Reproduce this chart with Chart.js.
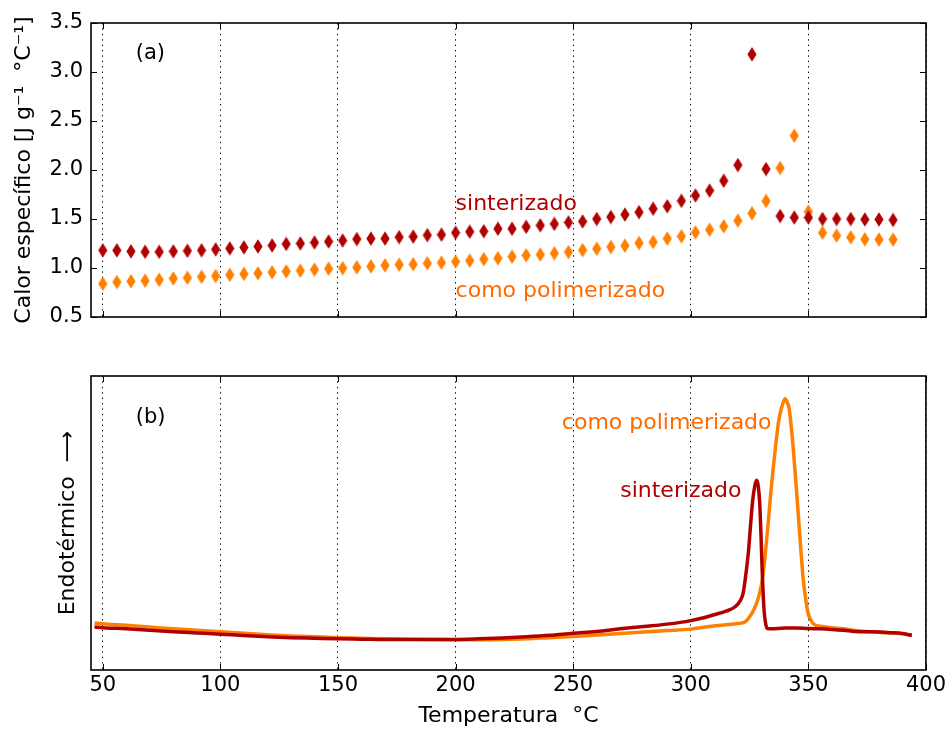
<!DOCTYPE html>
<html>
<head>
<meta charset="utf-8">
<script src="https://cdn.jsdelivr.net/npm/chart.js@4.4.1/dist/chart.umd.min.js"></script>
<style>
  html, body { margin: 0; padding: 0; background: #ffffff; }
  #wrap { position: relative; width: 949px; height: 729px; overflow: hidden; background: #fff; }
  #top { position: absolute; left: 0; top: 0; }
  #bot { position: absolute; left: 0; top: 345px; }
</style>
</head>
<body>
<div id="wrap">
  <canvas id="top" width="949" height="345"></canvas>
  <canvas id="bot" width="949" height="384"></canvas>
</div>
<script>
// ---------------- data ----------------
const xTicks = [50, 100, 150, 200, 250, 300, 350, 400];
const cpTicks = [0.5, 1.0, 1.5, 2.0, 2.5, 3.0, 3.5];

// (a) specific heat, temperature in °C
const cpTemps = [50, 56, 62, 68, 74, 80, 86, 92, 98, 104,
  110, 116, 122, 128, 134, 140, 146, 152, 158, 164,
  170, 176, 182, 188, 194, 200, 206, 212, 218, 224,
  230, 236, 242, 248, 254, 260, 266, 272, 278, 284,
  290, 296, 302, 308, 314, 320, 326, 332, 338, 344,
  350, 356, 362, 368, 374, 380, 386];
const cpSinterizado = [1.18, 1.18, 1.17, 1.165, 1.165, 1.17, 1.175, 1.18, 1.19, 1.20,
  1.21, 1.22, 1.23, 1.245, 1.25, 1.26, 1.27, 1.28, 1.295, 1.30,
  1.30, 1.315, 1.32, 1.335, 1.34, 1.36, 1.37, 1.375, 1.40, 1.40,
  1.42, 1.435, 1.45, 1.465, 1.475, 1.50, 1.52, 1.545, 1.57, 1.605,
  1.63, 1.685, 1.74, 1.79, 1.89, 2.05, 3.18, 2.01, 1.53, 1.515,
  1.515, 1.50, 1.50, 1.50, 1.495, 1.495, 1.49];
const cpPolimerizado = [0.84, 0.857, 0.864, 0.87, 0.88, 0.893, 0.90, 0.91, 0.918, 0.93,
  0.94, 0.946, 0.956, 0.966, 0.973, 0.983, 0.993, 0.998, 1.007, 1.017,
  1.027, 1.034, 1.038, 1.048, 1.054, 1.065, 1.075, 1.09, 1.10, 1.115,
  1.13, 1.137, 1.15, 1.163, 1.183, 1.197, 1.214, 1.228, 1.255, 1.265,
  1.30, 1.323, 1.363, 1.39, 1.425, 1.483, 1.558, 1.684, 2.02, 2.35,
  1.575, 1.36, 1.33, 1.313, 1.293, 1.29, 1.29];

// (b) DSC traces (arbitrary units, endothermic up)
const dscTempSint = [46.5, 50, 60, 70, 80, 90, 100, 110, 120, 130,
  140, 150, 160, 170, 180, 190, 200, 210, 220, 230,
  240, 250, 260, 270, 280, 290, 300, 305, 310, 315,
  319, 321, 322.3, 323.5, 324.5, 325.3, 326.3, 327.2, 328, 328.7,
  329.3, 329.9, 330.5, 331.2, 331.9, 332.6, 334, 340, 345, 350,
  355, 360, 365, 370, 375, 380, 385, 390, 394];
const dscSint = [0.146, 0.144, 0.140, 0.135, 0.130, 0.126, 0.122, 0.117, 0.113, 0.110,
  0.108, 0.106, 0.105, 0.104, 0.104, 0.104, 0.104, 0.106, 0.109, 0.113,
  0.118, 0.125, 0.131, 0.140, 0.148, 0.156, 0.168, 0.177, 0.188, 0.200,
  0.216, 0.235, 0.262, 0.330, 0.400, 0.480, 0.575, 0.625, 0.645, 0.625,
  0.570, 0.450, 0.310, 0.200, 0.155, 0.141, 0.140, 0.143, 0.143, 0.141,
  0.140, 0.138, 0.135, 0.131, 0.130, 0.129, 0.127, 0.124, 0.118];
const dscTempPoli = [46.5, 50, 60, 70, 80, 90, 100, 110, 120, 130,
  140, 150, 160, 170, 180, 190, 200, 210, 220, 230,
  240, 250, 260, 270, 280, 290, 300, 307, 314, 320,
  323, 325.4, 326.8, 328, 329.2, 330.5, 331.5, 332.9, 334, 335.1,
  336.2, 337.2, 338.2, 339.2, 340.2, 341, 341.8, 342.7, 343.5, 344.6,
  345.7, 346.8, 347.8, 348.9, 349.9, 351, 352.8, 356, 360, 365,
  370, 375, 380, 385, 390, 394];
const dscPoli = [0.160, 0.157, 0.152, 0.146, 0.140, 0.135, 0.130, 0.125, 0.120, 0.116,
  0.113, 0.110, 0.108, 0.106, 0.105, 0.104, 0.103, 0.103, 0.104, 0.106,
  0.110, 0.114, 0.119, 0.124, 0.129, 0.134, 0.139, 0.147, 0.153, 0.158,
  0.163, 0.185, 0.205, 0.227, 0.260, 0.310, 0.380, 0.498, 0.600, 0.690,
  0.770, 0.838, 0.880, 0.908, 0.923, 0.910, 0.890, 0.830, 0.760, 0.650,
  0.530, 0.410, 0.310, 0.240, 0.193, 0.170, 0.153, 0.148, 0.144, 0.140,
  0.134, 0.131, 0.128, 0.126, 0.123, 0.118];

// labels
const nameSint = 'sinterizado';
const namePoli = 'como polimerizado';
const xTitle = 'Temperatura  °C';
const yTitleTop = 'Calor específico [J g⁻¹  °C⁻¹]';
const yTitleBot = 'Endotérmico  ⟶';

// ---------------- styles ----------------
const RED = '#b00000';
const ORANGE = '#ff8000';
const ORANGE_TXT = '#ff6a00';
const FONT = "'DejaVu Sans', sans-serif";

function diamond(color) {
  const c = document.createElement('canvas');
  c.width = 10; c.height = 15;
  const g = c.getContext('2d');
  g.fillStyle = color;
  g.beginPath();
  g.moveTo(5, 0.3); g.lineTo(9.6, 7.5); g.lineTo(5, 14.7); g.lineTo(0.4, 7.5);
  g.closePath(); g.fill();
  return c;
}

const framePlugin = {
  id: 'frame',
  afterDatasetsDraw(chart, args, opts) {
    const ctx = chart.ctx, a = chart.chartArea;
    const xs = chart.scales.x, ys = chart.scales.y;
    ctx.save();
    // annotations
    (opts.texts || []).forEach(t => {
      ctx.font = t.font || ('22px ' + FONT);
      ctx.fillStyle = t.color;
      ctx.textAlign = 'left';
      ctx.textBaseline = 'alphabetic';
      ctx.fillText(t.text, xs.getPixelForValue(t.x), ys.getPixelForValue(t.y));
    });
    // inward tick marks
    ctx.strokeStyle = '#000';
    ctx.lineWidth = 1;
    ctx.beginPath();
    xTicks.forEach(v => {
      const px = Math.round(xs.getPixelForValue(v)) + 0.5;
      ctx.moveTo(px, a.bottom); ctx.lineTo(px, a.bottom - 6);
      ctx.moveTo(px, a.top); ctx.lineTo(px, a.top + 6);
    });
    (opts.yTicks || []).forEach(v => {
      const py = Math.round(ys.getPixelForValue(v)) + 0.5;
      ctx.moveTo(a.left, py); ctx.lineTo(a.left + 6, py);
      ctx.moveTo(a.right, py); ctx.lineTo(a.right - 6, py);
    });
    ctx.stroke();
    // frame
    ctx.lineWidth = 1.6;
    ctx.strokeRect(a.left, a.top, a.right - a.left, a.bottom - a.top);
    ctx.restore();
  }
};

const xScaleBase = (showLabels, h) => ({
  type: 'linear',
  min: 45, max: 400,
  afterBuildTicks: s => { s.ticks = xTicks.map(v => ({ value: v })); },
  afterFit: s => { s.height = h; },
  grid: { display: true, drawOnChartArea: true, drawTicks: false, color: '#000', lineWidth: 1 },
  border: { display: false, dash: [1.4, 4] },
  ticks: { display: showLabels, padding: 3, color: '#000', font: { family: FONT, size: 21 }, maxRotation: 0 },
  title: { display: showLabels, text: xTitle, color: '#000', font: { family: FONT, size: 22 }, padding: { top: 0, bottom: 0 } }
});

// ---------------- top chart (a) ----------------
new Chart(document.getElementById('top'), {
  type: 'scatter',
  data: {
    datasets: [
      { label: nameSint, data: cpTemps.map((t, i) => ({ x: t, y: cpSinterizado[i] })),
        pointStyle: diamond(RED), pointRadius: 5, pointHoverRadius: 5 },
      { label: namePoli, data: cpTemps.map((t, i) => ({ x: t, y: cpPolimerizado[i] })),
        pointStyle: diamond(ORANGE), pointRadius: 5, pointHoverRadius: 5 }
    ]
  },
  options: {
    responsive: false, animation: false, devicePixelRatio: 1,
    layout: { padding: { top: 23, right: 23, left: 0, bottom: 0 } },
    plugins: {
      legend: { display: false }, tooltip: { enabled: false },
      frame: {
        yTicks: cpTicks,
        texts: [
          { text: '(a)', x: 64, y: 3.13, color: '#000', font: '21px ' + FONT },
          { text: nameSint, x: 200, y: 1.59, color: RED },
          { text: namePoli, x: 200, y: 0.70, color: ORANGE_TXT }
        ]
      }
    },
    scales: {
      x: xScaleBase(false, 28),
      y: {
        type: 'linear', min: 0.5, max: 3.5,
        afterBuildTicks: s => { s.ticks = cpTicks.map(v => ({ value: v })); },
        afterFit: s => { s.width = 91; },
        grid: { display: false, drawTicks: false },
        border: { display: false },
        ticks: { padding: 8, color: '#000', font: { family: FONT, size: 21 }, callback: v => v.toFixed(1) },
        title: { display: true, text: yTitleTop, color: '#000', font: { family: FONT, size: 22 }, padding: { top: 11, bottom: 0 } }
      }
    }
  },
  plugins: [framePlugin]
});

// ---------------- bottom chart (b) ----------------
new Chart(document.getElementById('bot'), {
  type: 'line',
  data: {
    datasets: [
      { label: nameSint, data: dscTempSint.map((t, i) => ({ x: t, y: dscSint[i] })),
        borderColor: RED, borderWidth: 3.5, pointRadius: 0, fill: false, cubicInterpolationMode: 'monotone' },
      { label: namePoli, data: dscTempPoli.map((t, i) => ({ x: t, y: dscPoli[i] })),
        borderColor: ORANGE, borderWidth: 3.5, pointRadius: 0, fill: false, cubicInterpolationMode: 'monotone' }
    ]
  },
  options: {
    responsive: false, animation: false, devicePixelRatio: 1,
    layout: { padding: { top: 31, right: 23, left: 0, bottom: 0 } },
    plugins: {
      legend: { display: false }, tooltip: { enabled: false },
      frame: {
        yTicks: [],
        texts: [
          { text: '(b)', x: 64, y: 0.84, color: '#000', font: '21px ' + FONT },
          { text: nameSint, x: 270, y: 0.589, color: RED },
          { text: namePoli, x: 245.2, y: 0.821, color: ORANGE_TXT }
        ]
      }
    },
    scales: {
      x: xScaleBase(true, 59),
      y: {
        type: 'linear', min: 0, max: 1,
        afterFit: s => { s.width = 91; },
        grid: { display: false, drawTicks: false },
        border: { display: false },
        ticks: { display: false },
        title: { display: true, text: yTitleBot, color: '#000', font: { family: FONT, size: 22 }, padding: { top: 55, bottom: 0 } }
      }
    }
  },
  plugins: [framePlugin]
});
</script>
</body>
</html>
